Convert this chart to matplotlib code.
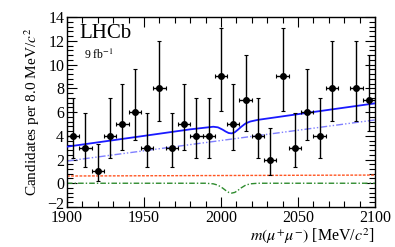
import matplotlib
matplotlib.use('Agg')
import matplotlib.pyplot as plt
import matplotlib.transforms as mtransforms
import numpy as np
from matplotlib.ticker import MultipleLocator

# ---- data ----
bin_centers = np.arange(1904, 2100, 8)
counts = [4, 3, 1, 4, 5, 6, 3, 8, 3, 5, 4, 4, 9, 5, 7, 4, 2, 9, 3, 6, 4, 8, 0, 8, 7]

# Garwood (68%) Poisson intervals for small counts
garwood_lo = {1: 0.173, 2: 0.708, 3: 1.367, 4: 2.086, 5: 2.840,
              6: 3.620, 7: 4.419, 8: 5.232, 9: 6.057}
garwood_hi = {1: 3.300, 2: 4.638, 3: 5.918, 4: 7.163, 5: 8.382,
              6: 9.584, 7: 10.77, 8: 11.95, 9: 13.11}

# total fit
total_x = [1900, 1950, 1980, 1995, 1998, 2001, 2003, 2005, 2007, 2009,
           2011, 2013, 2016, 2019, 2024, 2050, 2100]
total_y = [3.08, 3.99, 4.54, 4.76, 4.71, 4.52, 4.36, 4.23, 4.20, 4.30,
           4.51, 4.74, 5.04, 5.20, 5.34, 5.82, 6.73]

# combinatorial background
comb_x = [1900, 2100]
comb_y = [1.87, 5.33]

# flat background
flat_x = [1900, 2100]
flat_y = [0.61, 0.69]

# signal component
sig_x = [1900, 1990, 1995, 1998, 2001, 2003, 2005, 2007, 2009, 2011,
         2013, 2016, 2019, 2024, 2100]
sig_y = [0.0, 0.0, -0.05, -0.16, -0.40, -0.60, -0.77, -0.83, -0.77, -0.60,
         -0.40, -0.16, -0.05, 0.0, 0.0]

plt.rcParams['font.family'] = ['Liberation Serif', 'DejaVu Serif']
plt.rcParams['mathtext.fontset'] = 'stix'

fig = plt.figure(figsize=(3.95, 2.47), dpi=100)
ax = fig.add_axes([0.1696, 0.162, 0.7797, 0.769])

ax.plot(total_x, total_y, color='#1a1aff', lw=1.3, zorder=3)
ax.plot(comb_x, comb_y, color='#7f7fff', lw=1.0, dashes=[5, 1.5, 1, 1.5, 1, 1.5], zorder=2)
ax.plot(flat_x, flat_y, color='#ff5522', lw=1.0, dashes=[2, 1], zorder=2)
ax.plot(sig_x, sig_y, color='#2e8b2e', lw=1.0, dashes=[4, 1.5, 1, 1.5], zorder=2)

xs, ys, lo, hi = [], [], [], []
for x, n in zip(bin_centers, counts):
    if n == 0:
        continue
    xs.append(x)
    ys.append(n)
    lo.append(n - garwood_lo[n])
    hi.append(garwood_hi[n] - n)

ax.errorbar(xs, ys, yerr=[lo, hi], xerr=4, fmt='o', color='black',
            markersize=4, elinewidth=1.0, capsize=1.2, capthick=0.8, zorder=4)

ax.set_xlim(1900, 2100)
ax.set_ylim(-2, 14)
ax.xaxis.set_major_locator(MultipleLocator(50))
ax.xaxis.set_minor_locator(MultipleLocator(10))
ax.yaxis.set_major_locator(MultipleLocator(2))
ax.yaxis.set_minor_locator(MultipleLocator(0.4))
ax.tick_params(which='both', direction='in', top=True, right=True,
               labelsize=11.5)
ax.tick_params(axis='x', pad=2.5)
ax.tick_params(axis='y', pad=2)
ax.tick_params(which='major', length=7, width=0.8)
ax.tick_params(which='minor', length=4, width=0.8)
ax.set_yticks(np.arange(-2, 15, 2))
ax.set_yticklabels(['\u22122'] + [str(v) for v in range(0, 15, 2)])
for s in ax.spines.values():
    s.set_linewidth(1.0)

# corner labels sit a little apart, as in the original
lbl = ax.get_yticklabels()[0]
lbl.set_transform(lbl.get_transform() +
                  mtransforms.ScaledTranslation(0, 3 / 72, fig.dpi_scale_trans))
xl = ax.get_xticklabels()[0]
xl.set_transform(xl.get_transform() +
                 mtransforms.ScaledTranslation(-5 / 72, 0, fig.dpi_scale_trans))

ax.set_ylabel(r'Candidates per 8.0 MeV/$c^2$', fontsize=11, labelpad=4)
ax.set_xlabel(r'$m(\mu^{+}\mu^{-})$ [MeV/$c^2$]', fontsize=11.5, labelpad=1)
ax.xaxis.set_label_coords(1.0, -0.10)
ax.xaxis.label.set_horizontalalignment('right')

ax.text(0.04, 0.965, 'LHCb', transform=ax.transAxes, fontsize=15,
        va='top', ha='left')
ax.text(0.055, 0.84, r'9 fb$^{-1}$', transform=ax.transAxes, fontsize=8.5,
        va='top', ha='left')

plt.savefig('out.png', dpi=100)
plt.close()
